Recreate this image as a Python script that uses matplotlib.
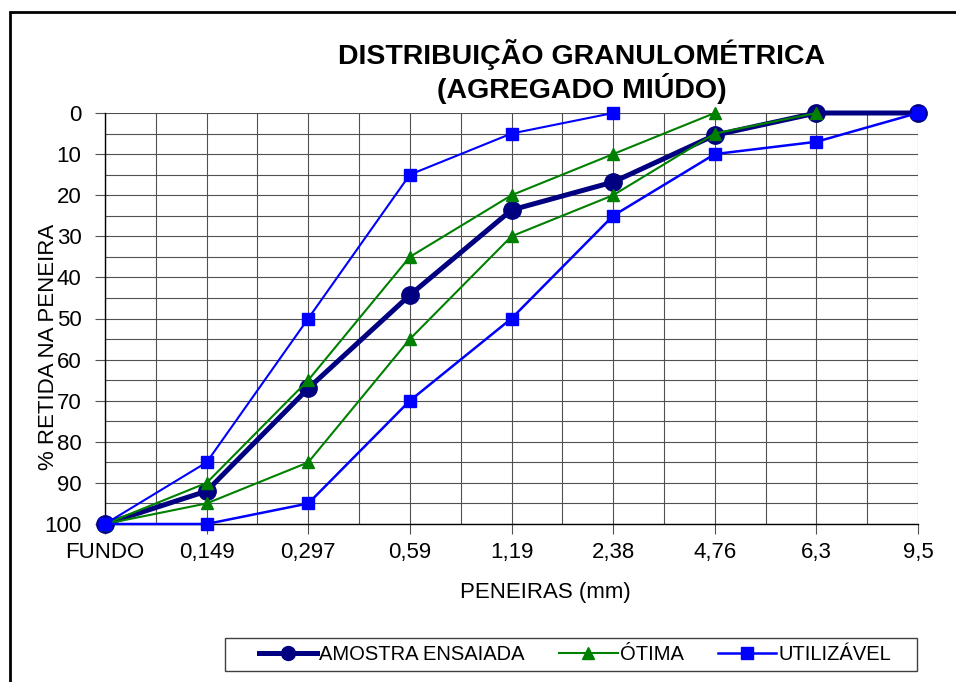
import matplotlib
matplotlib.use("Agg")
import matplotlib.pyplot as plt
from matplotlib.lines import Line2D
from matplotlib.patches import Rectangle
import numpy as np

plt.rcParams['font.family'] = ['Liberation Sans', 'DejaVu Sans']

categories = ["FUNDO", "0,149", "0,297", "0,59", "1,19", "2,38", "4,76", "6,3", "9,5"]
amostra = [100, 92, 67, 44.3, 23.6, 16.8, 5.4, 0, 0]
otima_sup = [100, 90, 65, 35, 20, 10, 0, np.nan, np.nan]
otima_inf = [100, 95, 85, 55, 30, 20, 5, 0, np.nan]
util_sup = [100, 85, 50, 15, 5, 0, np.nan, np.nan, np.nan]
util_inf = [100, 100, 95, 70, 50, 25, 10, 7, 0]

W, H = 956, 682
fig = plt.figure(figsize=(W / 100, H / 100), dpi=100)
ax = fig.add_axes([105 / W, 1 - 524 / H, (918 - 105) / W, (524 - 113) / H])

x = np.arange(len(categories))
navy = '#000080'
green = '#008000'
blue = '#0000FF'

ax.plot(x, amostra, color=navy, lw=3.6, marker='o', ms=12.5, mfc=navy, mec=navy, zorder=3, clip_on=False)
ax.plot(x, otima_sup, color=green, lw=1.5, marker='^', ms=9, mfc=green, mec=green, zorder=4, clip_on=False)
ax.plot(x, otima_inf, color=green, lw=1.5, marker='^', ms=9, mfc=green, mec=green, zorder=4, clip_on=False)
ax.plot(x, util_sup, color=blue, lw=1.5, marker='s', ms=9, mfc=blue, mec=blue, zorder=5, clip_on=False)
ax.plot(x, util_inf, color=blue, lw=1.8, marker='s', ms=9, mfc=blue, mec=blue, zorder=5, clip_on=False)

ax.set_xlim(0, len(categories) - 1)
ax.set_ylim(100, 0)
ax.set_xticks(x)
ax.set_xticklabels(categories)
ax.set_yticks(np.arange(0, 101, 10))
ax.set_xticks(np.arange(0, len(categories) - 1, 0.5), minor=True)
ax.set_yticks(np.arange(0, 101, 5), minor=True)
ax.grid(True, which='both', color='#505050', lw=0.8)
ax.set_axisbelow(True)
ax.tick_params(axis='both', which='major', labelsize=16, length=7, width=0.8, color='#505050', direction='out')
ax.tick_params(axis='x', which='major', pad=6)
ax.tick_params(axis='y', which='major', pad=10)
ax.tick_params(which='minor', length=0)
for s in ['top', 'right']:
    ax.spines[s].set_visible(False)
for s in ['left', 'bottom']:
    ax.spines[s].set_color('black')
    ax.spines[s].set_linewidth(1.0)

ax.set_xlabel("PENEIRAS (mm)", fontsize=16)
ax.xaxis.set_label_coords((545 - 105) / 813, -(582 - 524) / 411)
ax.set_ylabel("% RETIDA NA PENEIRA", fontsize=16, va='center')
ax.yaxis.set_label_coords((48 - 105) / 813, 1 - (347 - 113) / 411)

fig.text(582 / W, 1 - 55 / H, "DISTRIBUIÇÃO GRANULOMÉTRICA", ha='center', va='center',
         fontsize=20.5, fontweight='bold')
fig.text(582 / W, 1 - 88 / H, "(AGREGADO MIÚDO)", ha='center', va='center',
         fontsize=20.5, fontweight='bold')

handles = [
    Line2D([], [], color=navy, lw=3.6, marker='o', ms=10, mfc=navy, mec=navy),
    Line2D([], [], color=green, lw=1.5, marker='^', ms=9, mfc=green, mec=green),
    Line2D([], [], color=blue, lw=1.8, marker='s', ms=9, mfc=blue, mec=blue),
]
labels = ["AMOSTRA ENSAIADA", "ÓTIMA", "UTILIZÁVEL"]
leg = fig.legend(handles, labels, loc='center', bbox_to_anchor=(575 / W, 1 - 655 / H),
                 ncol=3, fontsize=14.5, frameon=False,
                 handlelength=2.9, handletextpad=0.1, columnspacing=1.7, borderpad=0.3)

fig.patches.append(Rectangle((225 / W, 1 - 671 / H), (917 - 225) / W, 33 / H, transform=fig.transFigure,
                             fill=False, edgecolor='#404040', lw=1.0, zorder=0))
fig.patches.append(Rectangle((10 / W, -0.1), 1.2, 1 - 12 / H + 0.1, transform=fig.transFigure,
                             fill=False, edgecolor='black', lw=2, zorder=0))

fig.savefig("out.png", dpi=100)
